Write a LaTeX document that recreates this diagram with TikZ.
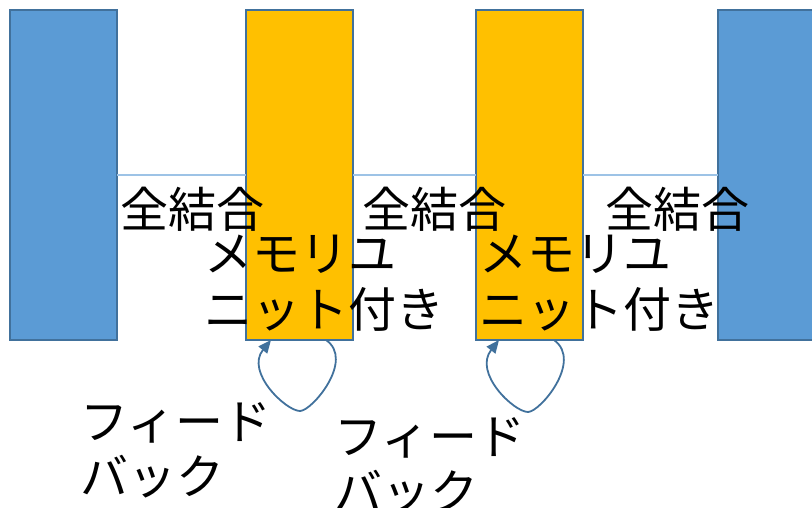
\documentclass[tikz,border=0pt]{standalone}
\usepackage{fontspec}
\setmainfont{Noto Sans CJK JP}
\usetikzlibrary{arrows.meta}
\definecolor{bluefill}{HTML}{5B9BD5}
\definecolor{edge}{HTML}{41719C}
\definecolor{orangefill}{HTML}{FFC000}
\definecolor{linkline}{HTML}{9DC3E6}
\tikzset{
  layerbox/.style={draw=edge, line width=1.5pt, anchor=north west, inner sep=0pt, outer sep=0pt,
    minimum width=107pt, minimum height=330pt},
  bluebox/.style={layerbox, fill=bluefill},
  orangebox/.style={layerbox, fill=orangefill},
  link/.style={draw=linkline, line width=1.2pt},
  lbl/.style={anchor=base west, inner sep=0pt, outer sep=0pt, font=\fontsize{48}{55}\selectfont, text=black},
  fb/.style={draw=edge, line width=1.8pt, -{Triangle[length=13pt,width=11pt]}},
}
\begin{document}
\begin{tikzpicture}[x=1pt,y=-1pt]
\useasboundingbox (0,0) rectangle (812,508);
\begin{scope}
\clip (0,0) rectangle (812,508);
\node[bluebox] (b1) at (10,10) {};
\node[orangebox] (o1) at (246,10) {};
\node[orangebox] (o2) at (476,10) {};
\node[bluebox] (b2) at (718,10) {};
\end{scope}
\draw[link] (b1.east) -- (o1.west);
\draw[link] (o1.east) -- (o2.west);
\draw[link] (o2.east) -- (b2.west);
\node[lbl] (fc1) at (120,227) {全結合};
\node[lbl] (fc2) at (362,227) {全結合};
\node[lbl] (fc3) at (605,227) {全結合};
\node[lbl] (m1a) at (204,272) {メモリユ};
\node[lbl] (m1b) at (204,327) {ニット付き};
\node[lbl] (m2a) at (479,272) {メモリユ};
\node[lbl] (m2b) at (479,327) {ニット付き};
\node[lbl] (f1a) at (80,439) {フィード};
\node[lbl] (f1b) at (80,494) {バック};
\node[lbl] (f2a) at (334,454) {フィード};
\node[lbl] (f2b) at (334,509) {バック};
\coordinate (l1s) at ([xshift=-27pt]o1.south east);
\coordinate (l1e) at ([xshift=25pt]o1.south west);
\coordinate (l2s) at ([xshift=-29pt]o2.south east);
\coordinate (l2e) at ([xshift=23pt]o2.south west);
\draw[fb] (l1s) .. controls (355,360) and (312,411) .. (300,411)
               .. controls (286,411) and (245,372) .. (l1e);
\draw[fb] (l2s) .. controls (583,361) and (540,412) .. (528,412)
               .. controls (514,412) and (473,373) .. (l2e);
\end{tikzpicture}
\end{document}
